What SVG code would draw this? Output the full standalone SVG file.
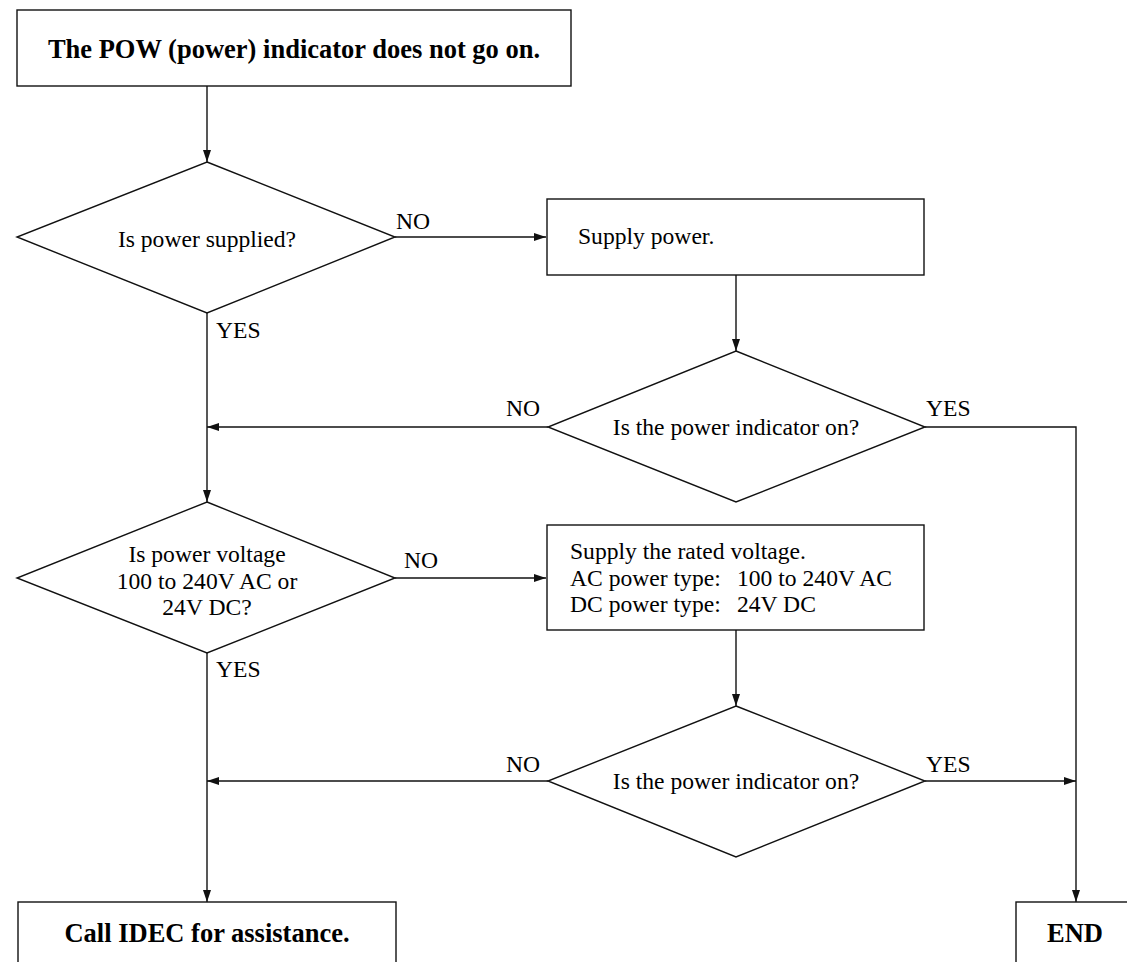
<svg xmlns="http://www.w3.org/2000/svg" width="1127" height="962" viewBox="0 0 1127 962">
<style>
.box{fill:#fff;stroke:#111;stroke-width:1.4}
.ln{fill:none;stroke:#111;stroke-width:1.4}
.t{font-family:"Liberation Serif","Times New Roman",serif;font-size:23.6px;fill:#000}
.b{font-family:"Liberation Serif","Times New Roman",serif;font-size:26.5px;font-weight:bold;fill:#000}
.c{text-anchor:middle}
</style>
<defs>
<marker id="ah" viewBox="0 0 12 8" refX="12" refY="4" markerWidth="12" markerHeight="8" markerUnits="userSpaceOnUse" orient="auto">
<path d="M0,0 L12,4 L0,8 Z" fill="#111"/>
</marker>
</defs>
<rect width="1127" height="962" fill="#fff"/>
<g id="connectors">
<line class="ln" x1="207" y1="86" x2="207" y2="162" marker-end="url(#ah)"/>
<line class="ln" x1="395" y1="237" x2="546" y2="237" marker-end="url(#ah)"/>
<line class="ln" x1="736" y1="275" x2="736" y2="351" marker-end="url(#ah)"/>
<line class="ln" x1="548" y1="427" x2="207" y2="427" marker-end="url(#ah)"/>
<polyline class="ln" points="925,427 1076,427 1076,902" marker-end="url(#ah)"/>
<line class="ln" x1="207" y1="313" x2="207" y2="502" marker-end="url(#ah)"/>
<line class="ln" x1="395" y1="578" x2="546" y2="578" marker-end="url(#ah)"/>
<line class="ln" x1="736" y1="630" x2="736" y2="706" marker-end="url(#ah)"/>
<line class="ln" x1="548" y1="781" x2="207" y2="781" marker-end="url(#ah)"/>
<line class="ln" x1="925" y1="781" x2="1076" y2="781" marker-end="url(#ah)"/>
<line class="ln" x1="207" y1="653" x2="207" y2="902" marker-end="url(#ah)"/>
<text class="t" x="396" y="229">NO</text>
<text class="t" x="216" y="338">YES</text>
<text class="t" x="506" y="416">NO</text>
<text class="t" x="926" y="416">YES</text>
<text class="t" x="404" y="568">NO</text>
<text class="t" x="216" y="677">YES</text>
<text class="t" x="506" y="772">NO</text>
<text class="t" x="926" y="772">YES</text>
</g>
<g id="start">
<rect class="box" x="17" y="10" width="554" height="76"/>
<text class="b c" x="294" y="58">The POW (power) indicator does not go on.</text>
</g>
<g id="q-supplied">
<polygon class="box" points="207,162 395,237 207,313 17,237"/>
<text class="t c" x="207" y="247">Is power supplied?</text>
</g>
<g id="supply-power">
<rect class="box" x="547" y="199" width="377" height="76"/>
<text class="t" x="578" y="244">Supply power.</text>
</g>
<g id="q-indicator-1">
<polygon class="box" points="736,351 925,427 736,502 548,427"/>
<text class="t c" x="736" y="435">Is the power indicator on?</text>
</g>
<g id="q-voltage">
<polygon class="box" points="207,502 395,578 207,653 17,578"/>
<text class="t c" x="207" y="562">Is power voltage</text>
<text class="t c" x="207" y="589">100 to 240V AC or</text>
<text class="t c" x="207" y="615">24V DC?</text>
</g>
<g id="supply-voltage">
<rect class="box" x="547" y="525" width="377" height="105"/>
<text class="t" x="570" y="559">Supply the rated voltage.</text>
<text class="t" x="570" y="586">AC power type:<tspan x="737">100 to 240V AC</tspan></text>
<text class="t" x="570" y="612">DC power type:<tspan x="737">24V DC</tspan></text>
</g>
<g id="q-indicator-2">
<polygon class="box" points="736,706 925,781 736,857 548,781"/>
<text class="t c" x="736" y="789">Is the power indicator on?</text>
</g>
<g id="call-idec">
<rect class="box" x="18" y="902" width="378" height="80"/>
<text class="b c" x="207" y="942">Call IDEC for assistance.</text>
</g>
<g id="end">
<rect class="box" x="1016" y="902" width="130" height="80"/>
<text class="b c" x="1075" y="942">END</text>
</g>
</svg>
